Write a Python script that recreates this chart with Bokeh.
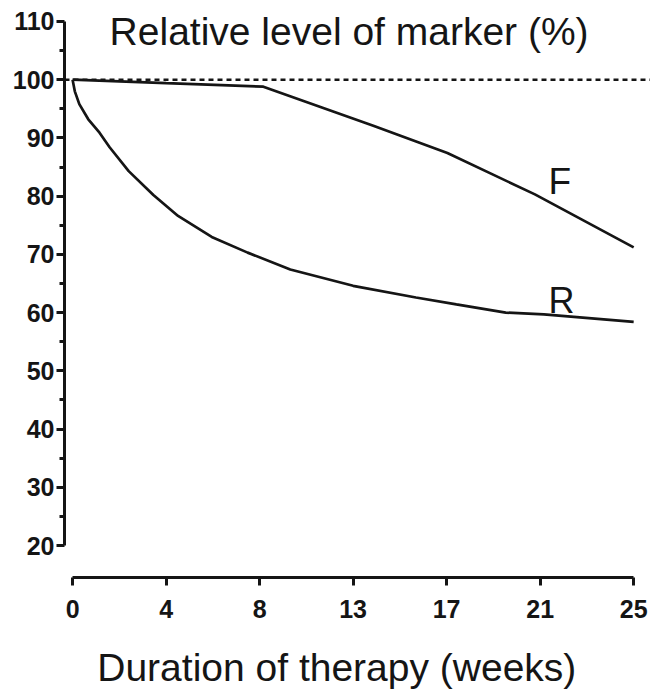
from bokeh.plotting import figure
from bokeh.models import FixedTicker, Range1d, Label, Span
from bokeh.embed import file_html
from bokeh.resources import INLINE

# ---- data ----
x_tick_labels = ["0", "4", "8", "13", "17", "21", "25"]
y_ticks = [20, 30, 40, 50, 60, 70, 80, 90, 100, 110]
y_minor = [25, 35, 45, 55, 65, 75, 85, 95, 105]
baseline_level = 100

f_weeks = [0, 4.17, 8.5, 13.4, 16.7, 20.6, 25.0]
f_level = [100, 99.4, 98.8, 92.1, 87.4, 80.3, 71.2]

r_weeks = [0, 0.1, 0.3, 0.7, 1.2, 1.65, 2.5, 3.6, 4.7, 6.2, 7.8, 9.7, 12.5, 15.3, 17.1, 19.3, 21.0, 25.0]
r_level = [100, 98, 95.8, 93.2, 90.9, 88.4, 84.3, 80.2, 76.6, 73.0, 70.3, 67.4, 64.6, 62.6, 61.4, 60.0, 59.7, 58.4]

x_max = 25
n = len(x_tick_labels)
x_tick_pos = [i * x_max / (n - 1) for i in range(n)]

INK = "#151515"
FONT = "Liberation Sans"

p = figure(width=650, height=690,
           x_range=Range1d(-0.36, 25.75), y_range=Range1d(-4.9, 113.6),
           output_backend="svg", toolbar_location=None,
           min_border_left=64, min_border_right=0, min_border_top=0, min_border_bottom=0)
p.grid.visible = False
p.outline_line_color = None
p.background_fill_color = "white"
p.border_fill_color = "white"

# x axis (detached below the data, as in the original)
xa = p.xaxis[0]
xa.fixed_location = 14.5
xa.bounds = (0, x_max)
xa.ticker = FixedTicker(ticks=x_tick_pos, minor_ticks=[])
xa.major_label_overrides = {pos: lab for pos, lab in zip(x_tick_pos, x_tick_labels)}
xa.major_tick_in = 0
xa.major_tick_out = 8
xa.minor_tick_in = 0
xa.minor_tick_out = 0
xa.axis_line_width = 3
xa.axis_line_color = INK
xa.major_tick_line_width = 3
xa.major_tick_line_color = INK
xa.major_label_standoff = 14
xa.major_label_text_font = FONT
xa.major_label_text_font_style = "bold"
xa.major_label_text_font_size = "25px"
xa.major_label_text_color = INK

# y axis
ya = p.yaxis[0]
ya.bounds = (20, 110)
ya.ticker = FixedTicker(ticks=y_ticks, minor_ticks=y_minor)
ya.major_tick_in = 0
ya.major_tick_out = 8
ya.minor_tick_in = 0
ya.minor_tick_out = 5
ya.axis_line_width = 3
ya.axis_line_color = INK
ya.major_tick_line_width = 3
ya.major_tick_line_color = INK
ya.minor_tick_line_width = 3
ya.minor_tick_line_color = INK
ya.major_label_standoff = 2
ya.major_label_text_font = FONT
ya.major_label_text_font_style = "bold"
ya.major_label_text_font_size = "25px"
ya.major_label_text_color = INK

# reference dashed line
p.add_layout(Span(location=baseline_level, dimension="width", line_color=INK,
                  line_width=2.5, line_dash="5 4"))

p.line(f_weeks, f_level, line_color=INK, line_width=2.7)
p.line(r_weeks, r_level, line_color=INK, line_width=2.7)

p.add_layout(Label(x=1.65, y=108.3, text="Relative level of marker (%)",
                   text_font=FONT, text_font_size="39px", text_color=INK,
                   text_baseline="alphabetic", text_align="left"))
p.add_layout(Label(x=21.2, y=82.5, text="F", text_font=FONT, text_font_size="37px",
                   text_color=INK, text_baseline="alphabetic"))
p.add_layout(Label(x=21.2, y=62.1, text="R", text_font=FONT, text_font_size="36px",
                   text_color=INK, text_baseline="alphabetic"))
p.add_layout(Label(x=1.1, y=-1.0, text="Duration of therapy (weeks)",
                   text_font=FONT, text_font_size="39px", text_color=INK,
                   text_baseline="alphabetic", text_align="left"))

open("out.html", "w").write(file_html(p, INLINE))
